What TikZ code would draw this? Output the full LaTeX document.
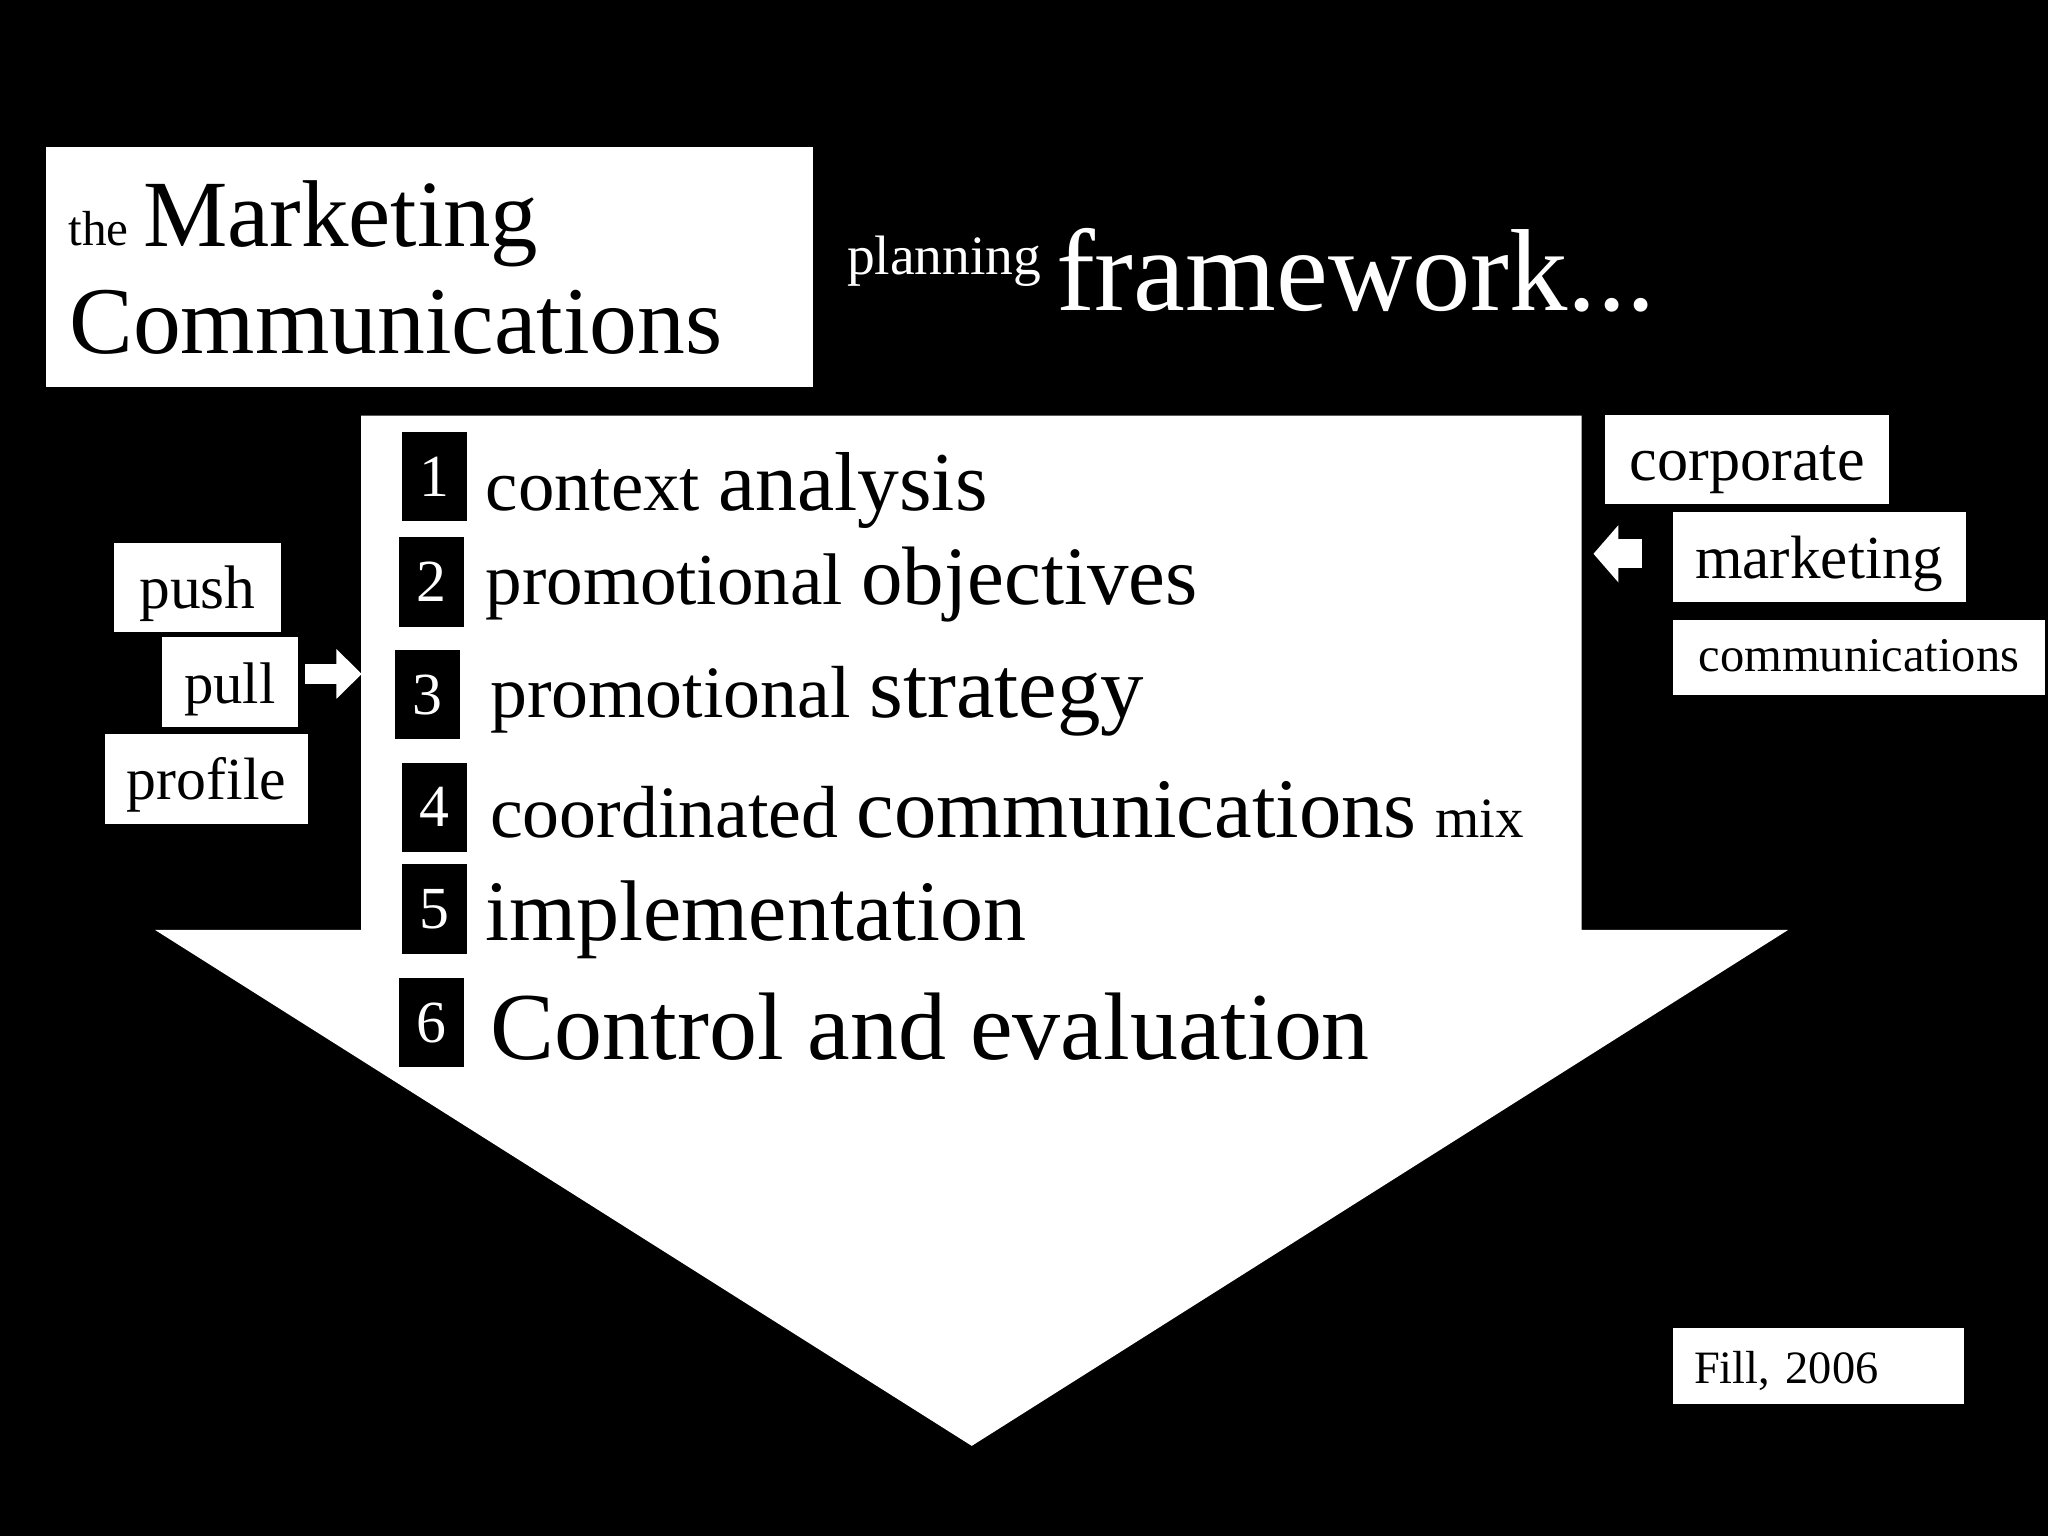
\documentclass[tikz,border=0pt]{standalone}
\usepackage{fontspec}
\setmainfont{Liberation Serif}
\usetikzlibrary{arrows.meta}
\newlength\upx
\setlength\upx{0.013061cm}
\newcommand\fsz[1]{\fontsize{#1}{#1}\selectfont}
\begin{document}
\begin{tikzpicture}[x=0.013061cm, y=-0.013061cm,
  wbox/.style={fill=white, text=black, inner sep=0pt, text height=36\upx, text depth=4\upx, anchor=north west},
  numbox/.style={fill=black, text=white, inner sep=0pt, minimum width=49.5\upx, minimum height=68.4\upx, font=\fsz{17pt}},
  stepline/.style={anchor=base west, inner sep=0pt, text=black},
  wtext/.style={anchor=base west, inner sep=0pt, text=white},
  btext/.style={anchor=base west, inner sep=0pt, text=black},
  blockarr/.style={draw=white, fill=white, line width=#1}
]
\fill[black] (0,0) rectangle (1568,1176);
\useasboundingbox (0,0) rectangle (1568,1176);

% main arrow
\fill[white] (276.4,318.2) -- (1211,318.2) -- (1211,712) -- (1369,712) -- (744,1107) -- (118.7,712) -- (276.4,712) -- cycle;

% title
\node[fill=white, inner sep=0pt, anchor=north west, minimum width=586.7\upx, minimum height=183.7\upx] (title) at (35,112.3) {};
\node[btext, font=\fsz{14pt}] (the) at (52,187.6) {the};
\node[btext, font=\fsz{27pt}] (mkt) at (109,188.4) {Marketing};
\node[btext, font=\fsz{27.2pt}] (comms) at (52.5,271) {Communications};
\node[wtext, font=\fsz{15.8pt}] (planning) at (648,209.8) {planning};
\node[wtext, font=\fsz{33.2pt}] (framework) at (808,237.4) {framework...};

% number boxes
\node[numbox] (n1) at (332.7,364.8) {1};
\node[numbox] (n2) at (330.3,445.6) {2};
\node[numbox] (n3) at (327.2,531.9) {3};
\node[numbox] (n4) at (332.7,618) {4};
\node[numbox] (n5) at (332.7,696) {5};
\node[numbox] (n6) at (330.3,782.9) {6};

% step texts
\node[stepline] (s1) at (371.4,391) {\fsz{20.7pt}context {\fsz{23.8pt}analysis}};
\node[stepline] (s2) at (371.4,463) {\fsz{20.8pt}promotional {\fsz{23.6pt}objectives}};
\node[stepline] (s3) at (374.7,549) {\fsz{21pt}promotional {\fsz{24.7pt}strategy}};
\node[stepline] (s4) at (374.7,641) {\fsz{21pt}coordinated {\fsz{24.1pt}communications} {\fsz{16.2pt}mix}};
\node[stepline] (s5) at (371.4,720) {\fsz{24.5pt}implementation};
\node[stepline] (s6) at (375,811) {\fsz{27.3pt}Control and evaluation};

% left boxes
\node[wbox, minimum width=127.6\upx, minimum height=68\upx, font=\fsz{17.5pt}] (push) at (86.8,415) {push};
\node[wbox, minimum width=104.4\upx, minimum height=68.9\upx, font=\fsz{16.7pt}] (pull) at (123.3,487.5) {pull};
\node[wbox, minimum width=156\upx, minimum height=68.9\upx, font=\fsz{17pt}] (profile) at (79.6,561.5) {profile};

% right boxes
\node[wbox, minimum width=217.5\upx, minimum height=68\upx, font=\fsz{17.7pt}] (corporate) at (1228.4,317) {corporate};
\node[wbox, minimum width=224.6\upx, minimum height=68.4\upx, font=\fsz{17.4pt}] (marketing) at (1280,391.8) {marketing};
\node[wbox, minimum width=285.3\upx, minimum height=57.6\upx, text height=28\upx, text depth=6\upx, font=\fsz{13.8pt}] (communications) at (1280,474) {communications};

% source
\node[wbox, text width=190\upx, align=left, inner xsep=16.5\upx, minimum height=58.5\upx, text height=30\upx, text depth=2.5\upx, font=\fsz{13.2pt}] (fill) at (1280,1016) {Fill, 2006};

% block arrows
\coordinate (pullout) at (233.5,516);
\coordinate (mainL) at (277,516);
\draw[blockarr=0.1959cm, -{Triangle[width=0.4833cm,length=0.2547cm]}] (pullout) -- (mainL);
\coordinate (rightout) at (1257,424);
\coordinate (mainR) at (1220,424);
\draw[blockarr=0.2873cm, -{Triangle[width=0.5564cm,length=0.2482cm]}] (rightout) -- (mainR);
\end{tikzpicture}
\end{document}
